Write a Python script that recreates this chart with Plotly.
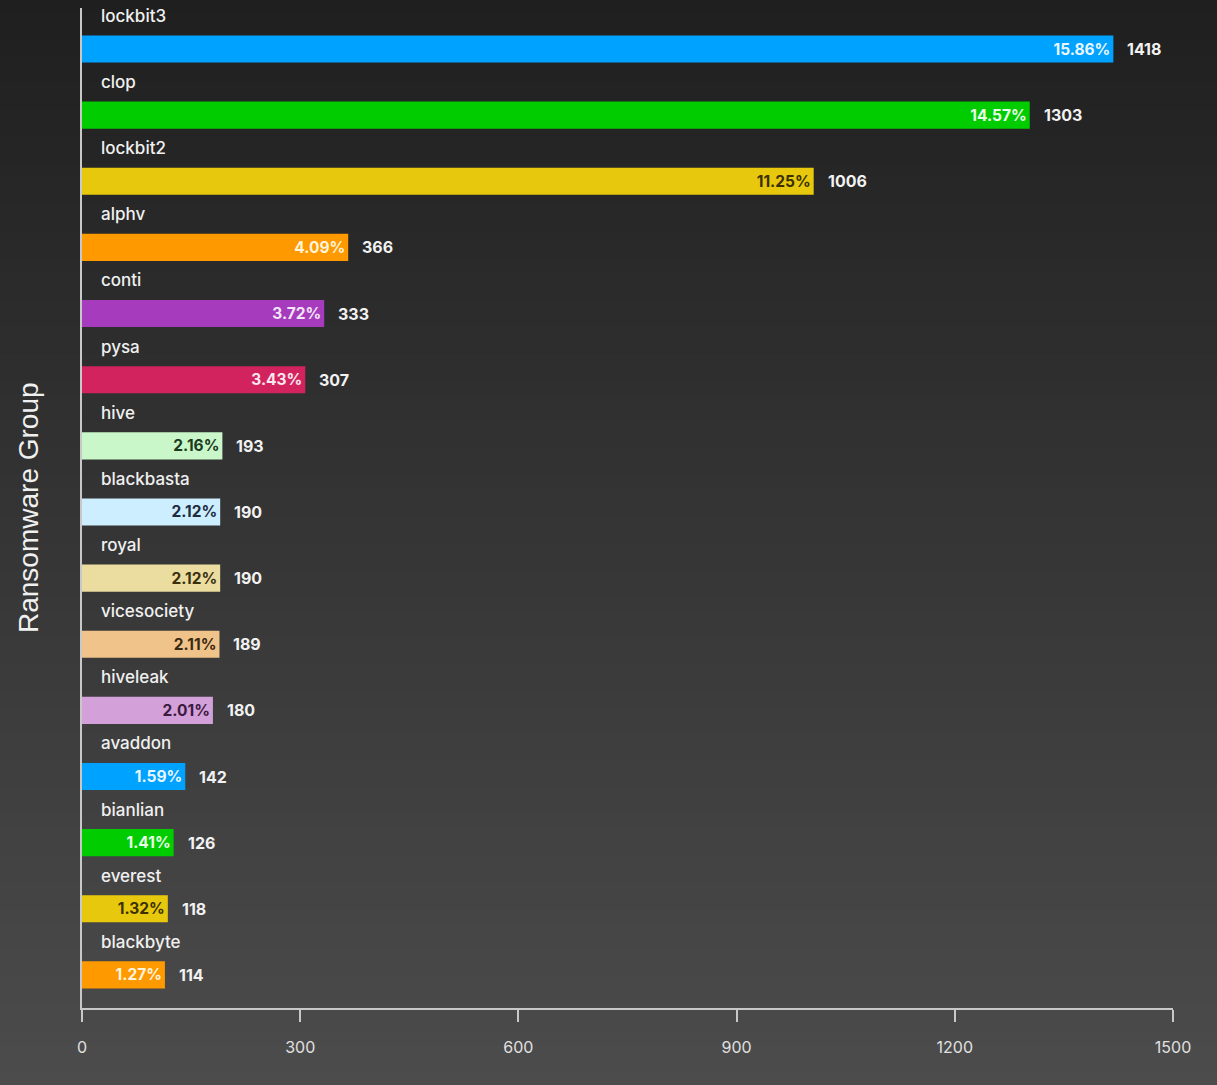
import plotly.graph_objects as go

groups = ["lockbit3", "clop", "lockbit2", "alphv", "conti", "pysa", "hive", "blackbasta",
          "royal", "vicesociety", "hiveleak", "avaddon", "bianlian", "everest", "blackbyte"]
counts = [1418, 1303, 1006, 366, 333, 307, 193, 190, 190, 189, 180, 142, 126, 118, 114]
percents = ["15.86%", "14.57%", "11.25%", "4.09%", "3.72%", "3.43%", "2.16%", "2.12%",
            "2.12%", "2.11%", "2.01%", "1.59%", "1.41%", "1.32%", "1.27%"]
bar_colors = ["#00a2ff", "#00cc00", "#e8c80c", "#ff9900", "#a63bbd", "#d2235f", "#c9f7c9",
              "#cdeeff", "#ebdc9f", "#f0c38a", "#d3a0da", "#00a2ff", "#00cc00", "#e8c80c", "#ff9900"]
pct_colors = ["#eaf6ff", "#eaffea", "#3a3000", "#fff4dc", "#f3e6f7", "#fbe8ee", "#1c3a1c",
              "#1c2c3e", "#3a3010", "#3a2a10", "#3a1a3e", "#eaf6ff", "#eaffea", "#3a3000", "#fff4dc"]
x_ticks = [0, 300, 600, 900, 1200, 1500]

FONT = "Inter"
pos = list(range(len(groups)))

fig = go.Figure()
fig.add_trace(go.Bar(
    y=pos, x=counts, orientation="h", width=0.41,
    marker=dict(color=bar_colors, line=dict(width=0)),
    text=percents, textposition="inside", insidetextanchor="end",
    textangle=0, constraintext="none",
    textfont=dict(family=FONT, size=15.5, color=pct_colors, weight=700),
    hoverinfo="skip",
))

annotations = []
for i, (g, c) in enumerate(zip(groups, counts)):
    annotations.append(dict(x=0, y=i - 0.5, xref="x", yref="y", text=g, showarrow=False,
                            xanchor="left", yanchor="middle", xshift=17,
                            font=dict(family=FONT, size=17, color="#f0f0f0", weight=500)))
    annotations.append(dict(x=c, y=i, xref="x", yref="y", text=str(c), showarrow=False,
                            xanchor="left", yanchor="middle", xshift=12,
                            font=dict(family=FONT, size=16, color="#f2f2f2", weight=700)))
annotations.append(dict(x=0, y=0.5, xref="paper", yref="paper", text="Ransomware Group",
                        showarrow=False, textangle=-90, xanchor="center", yanchor="middle",
                        xshift=-54, font=dict(family="Liberation Sans", size=28, color="#f0f0f0")))

# background vertical gradient
shapes = []
N = 80
top_px, bot_px = 8, 1008
H = 1085
for k in range(N):
    p0 = k * H / N
    p1 = (k + 1) * H / N + 1
    t = (k + 0.5) / N
    v = int(round(0x1f + (0x4c - 0x1f) * t))
    col = "#%02x%02x%02x" % (v, v, v)
    y0 = (bot_px - p0) / (bot_px - top_px)
    y1 = (bot_px - p1) / (bot_px - top_px)
    shapes.append(dict(type="rect", xref="paper", yref="paper", x0=-0.2, x1=1.2,
                       y0=y1, y1=y0, fillcolor=col, line=dict(width=0), layer="below"))

fig.update_layout(
    width=1217, height=1085,
    margin=dict(l=82, r=44, t=8, b=77),
    paper_bgcolor="#2f2f2f", plot_bgcolor="rgba(0,0,0,0)",
    showlegend=False,
    shapes=shapes,
    annotations=annotations,
    xaxis=dict(range=[0, 1500], tickvals=x_ticks, ticks="outside", ticklen=12, tickwidth=2,
               tickcolor="#c8c8c8", showline=True, linecolor="#c8c8c8", linewidth=2,
               showgrid=False, zeroline=False,
               tickfont=dict(family=FONT, size=16, color="#e0e0e0"), ticklabelstandoff=12),
    yaxis=dict(range=[14.5, -0.62], showticklabels=False, ticks="", showline=True,
               linecolor="#c8c8c8", linewidth=2, showgrid=False, zeroline=False),
)

fig.write_html("out.html")
